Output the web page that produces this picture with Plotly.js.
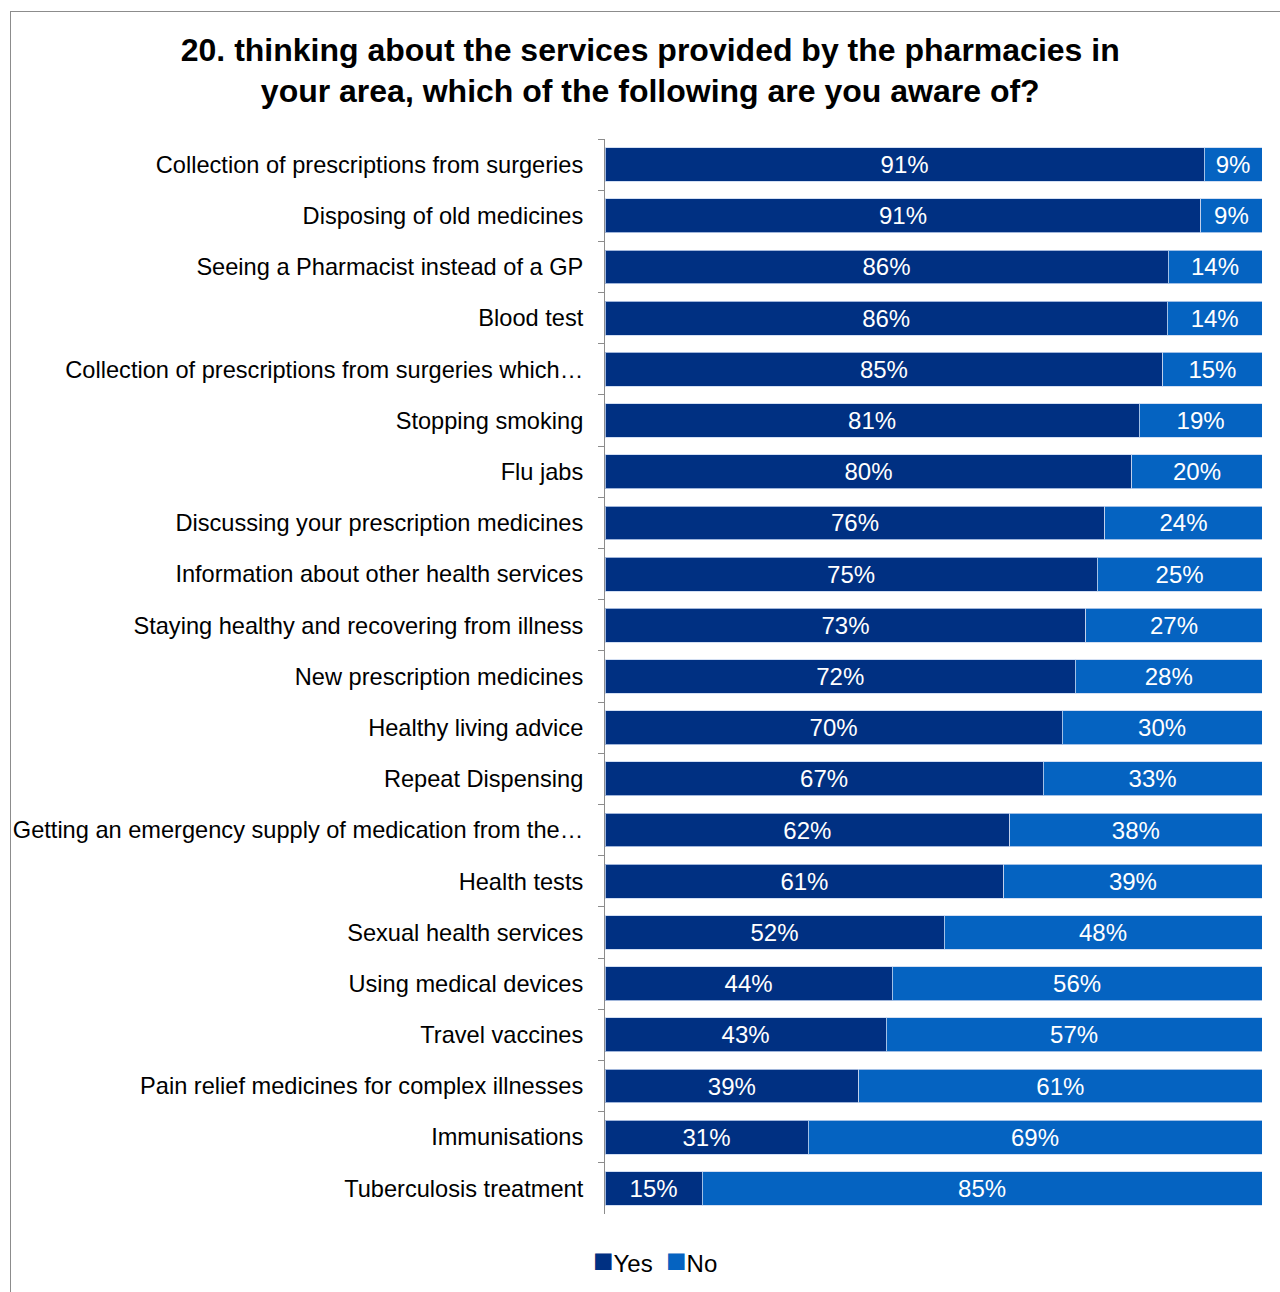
<!DOCTYPE html>
<html>
<head>
<meta charset="utf-8">
<script src="https://cdn.plot.ly/plotly-3.0.1.min.js"></script>
<style>
  html, body { margin: 0; padding: 0; background: #fff; }
  #wrap { position: relative; width: 1280px; height: 1292px; }
  #chart { position: absolute; left: 0; top: 0; width: 1280px; height: 1292px; }
  #frame { position: absolute; left: 10px; top: 11px; width: 1280px; height: 1300px;
           border-left: 1px solid #8c8c8c; border-top: 1px solid #8c8c8c; pointer-events: none; }
</style>
</head>
<body>
<div id="wrap">
  <div id="chart"></div>
  <div id="frame"></div>
</div>
<script>
const categories = [
  "Collection of prescriptions from surgeries",
  "Disposing of old medicines",
  "Seeing a Pharmacist instead of a GP",
  "Blood test",
  "Collection of prescriptions from surgeries which…",
  "Stopping smoking",
  "Flu jabs",
  "Discussing your prescription medicines",
  "Information about other health services",
  "Staying healthy and recovering from illness",
  "New prescription medicines",
  "Healthy living advice",
  "Repeat Dispensing",
  "Getting an emergency supply of medication from the…",
  "Health tests",
  "Sexual health services",
  "Using medical devices",
  "Travel vaccines",
  "Pain relief medicines for complex illnesses",
  "Immunisations",
  "Tuberculosis treatment"
];
const yesValues = [91.2, 90.7, 85.7, 85.6, 84.9, 81.3, 80.2, 76.1, 74.9, 73.2, 71.6, 69.6, 66.7, 61.6, 60.7, 51.6, 43.7, 42.8, 38.6, 30.9, 14.8];
const noValues  = [8.8, 9.3, 14.3, 14.4, 15.1, 18.7, 19.8, 23.9, 25.1, 26.8, 28.4, 30.4, 33.3, 38.4, 39.3, 48.4, 56.3, 57.2, 61.4, 69.1, 85.2];
const seriesNames = ["Yes", "No"];
const colors = ["#003082", "#0563C1"];

const FONT = '"Liberation Sans", Arial, sans-serif';

function trace(name, vals, color) {
  return {
    type: "bar",
    orientation: "h",
    name: name,
    y: categories,
    x: vals,
    marker: { color: color, line: { color: "rgba(200,215,240,0.8)", width: 1 } },
    texttemplate: "%{x:.0f}%",
    textposition: "inside",
    insidetextanchor: "middle",
    constraintext: "none",
    textfont: { family: FONT, size: 24, color: "#ffffff" },
    hoverinfo: "skip",
    showlegend: false
  };
}

const data = [
  trace(seriesNames[0], yesValues, colors[0]),
  trace(seriesNames[1], noValues, colors[1])
];

const legendText =
  '<span style="color:' + colors[0] + ';font-size:34px">■</span>' + seriesNames[0] +
  '  <span style="color:' + colors[1] + ';font-size:34px">■</span>' + seriesNames[1];

const layout = {
  width: 1280,
  height: 1292,
  paper_bgcolor: "rgba(0,0,0,0)",
  plot_bgcolor: "rgba(0,0,0,0)",
  margin: { l: 605, r: 18, t: 139, b: 78 },
  barmode: "stack",
  bargap: 0.34,
  font: { family: FONT, color: "#000" },
  title: {
    text: "<b>20. thinking about the services provided by the pharmacies in<br>your area, which of the following are you aware of?</b>",
    font: { family: FONT, size: 32, color: "#000" },
    x: 0.508, xref: "container", xanchor: "center",
    y: 0.953, yref: "container", yanchor: "top"
  },
  xaxis: {
    range: [0, 100],
    visible: false,
    fixedrange: true
  },
  yaxis: {
    type: "category",
    autorange: "reversed",
    showline: true,
    linecolor: "#8c8c8c",
    linewidth: 1,
    ticks: "outside",
    tickson: "boundaries",
    ticklen: 6,
    tickcolor: "#8c8c8c",
    ticklabelstandoff: 16,
    tickfont: { family: FONT, size: 23.6, color: "#000" },
    showgrid: false,
    zeroline: false,
    fixedrange: true
  },
  showlegend: false,
  annotations: [{
    text: legendText,
    xref: "paper", yref: "paper",
    x: (655 - 605) / 657, xanchor: "center",
    y: (1214 - 1260) / 1075, yanchor: "middle",
    showarrow: false,
    font: { family: FONT, size: 24, color: "#000" }
  }]
};

Plotly.newPlot("chart", data, layout, { displayModeBar: false, staticPlot: true });
</script>
</body>
</html>
